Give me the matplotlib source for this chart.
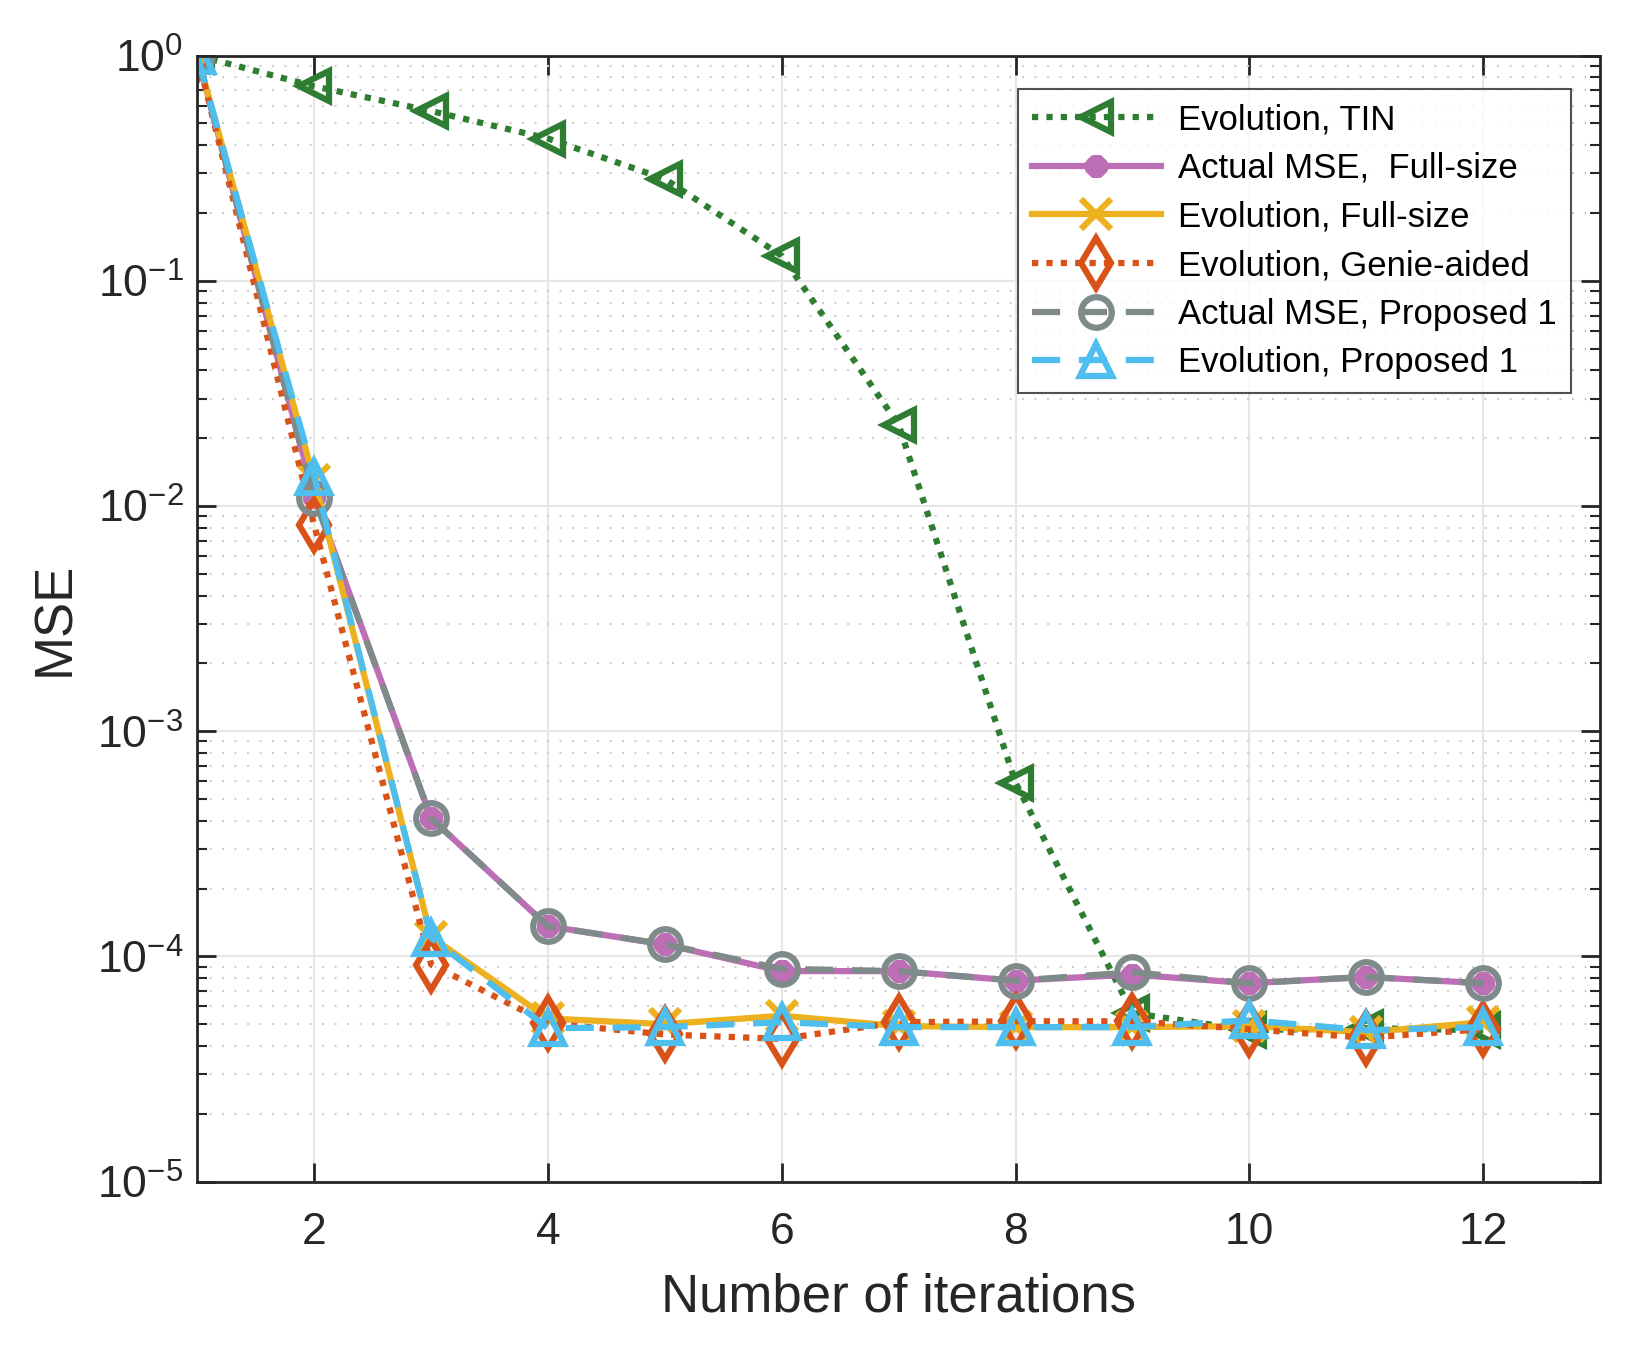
import numpy as np
import matplotlib
matplotlib.use('Agg')
import matplotlib.pyplot as plt
from matplotlib.ticker import LogLocator, NullFormatter

plt.rcParams['font.family'] = ['Liberation Sans', 'DejaVu Sans']
plt.rcParams['mathtext.fontset'] = 'custom'
plt.rcParams['mathtext.rm'] = 'Liberation Sans'
plt.rcParams['mathtext.it'] = 'Liberation Sans:italic'

# data
iters = [1, 2, 3, 4, 5, 6, 7, 8, 9, 10, 11, 12]
tin = [1.0, 0.73, 0.567, 0.428, 0.283, 0.129, 0.0229, 5.9e-4, 5.6e-5, 4.7e-5, 4.8e-5, 4.7e-5]
actual_full = [1.0, 1.1e-2, 4.1e-4, 1.36e-4, 1.13e-4, 8.6e-5, 8.6e-5, 7.8e-5, 8.3e-5, 7.6e-5, 8.1e-5, 7.6e-5]
evo_full = [1.0, 1.3e-2, 1.22e-4, 5.3e-5, 5.0e-5, 5.45e-5, 4.9e-5, 4.85e-5, 4.85e-5, 4.9e-5, 4.6e-5, 5.1e-5]
evo_genie = [1.0, 8.2e-3, 9.2e-5, 5.05e-5, 4.5e-5, 4.3e-5, 5.1e-5, 5.15e-5, 5.15e-5, 4.75e-5, 4.35e-5, 4.75e-5]
actual_prop = [1.0, 1.09e-2, 4.1e-4, 1.36e-4, 1.13e-4, 8.8e-5, 8.6e-5, 7.8e-5, 8.5e-5, 7.6e-5, 8.1e-5, 7.6e-5]
evo_prop = [1.0, 1.35e-2, 1.21e-4, 4.8e-5, 4.85e-5, 5.1e-5, 4.85e-5, 4.85e-5, 4.85e-5, 5.2e-5, 4.7e-5, 4.85e-5]

labels = ['Evolution, TIN',
          'Actual MSE,  Full-size',
          'Evolution, Full-size',
          'Evolution, Genie-aided',
          'Actual MSE, Proposed 1',
          'Evolution, Proposed 1']

fig = plt.figure(figsize=(16.31, 13.55), dpi=100)
ax = fig.add_axes([0.121, 0.128, 0.860, 0.831])

lw = 4.5
mew = 4.5
dot = (1, 1.3)
dash = (4.5, 3)
ax.plot(iters, tin, color='#2E7D32', lw=lw, dashes=dot, marker='<', ms=22, mfc='none', mew=mew, label=labels[0])
ax.plot(iters, actual_full, '-', color='#BC6FB4', lw=lw, marker=(8, 2, 0), ms=16, mew=6, label=labels[1])
ax.plot(iters, evo_full, '-', color='#EDB120', lw=lw, marker='x', ms=22, mew=mew, label=labels[2])
ax.plot(iters, evo_genie, color='#D95319', lw=lw, dashes=dot, marker='d', ms=25, mfc='none', mew=mew, label=labels[3])
ax.plot(iters, actual_prop, color='#7F8A8A', lw=lw, dashes=dash, marker='o', ms=22, mfc='none', mew=mew,
        label=labels[4])
ax.plot(iters, evo_prop, color='#4DBEEE', lw=lw, dashes=dash, marker='^', ms=23, mfc='none', mew=mew,
        label=labels[5])

ax.set_yscale('log')
ax.set_xlim(1, 13)
ax.set_ylim(1e-5, 1)
ax.set_xticks([2, 4, 6, 8, 10, 12])
ax.yaxis.set_major_locator(LogLocator(base=10, numticks=10))
ax.yaxis.set_minor_locator(LogLocator(base=10, subs=np.arange(2, 10), numticks=20))
ax.yaxis.set_minor_formatter(NullFormatter())

ax.grid(True, which='major', color='#E6E6E6', lw=1.5, ls='-')
ax.grid(True, which='minor', axis='y', color='#CFCFCF', lw=1.5, ls=(0, (1, 5)))
ax.set_axisbelow(True)

ax.tick_params(which='both', direction='in', top=True, right=True, colors='#262626')
ax.tick_params(which='major', length=14, width=2, labelsize=32)
ax.tick_params(axis='x', which='major', pad=22)
ax.tick_params(axis='y', which='major', pad=10)
ax.tick_params(which='minor', length=7, width=1.5)
for sp in ax.spines.values():
    sp.set_linewidth(2)
    sp.set_color('#262626')

ax.set_xlabel('Number of iterations', fontsize=38, color='#262626', labelpad=14)
ax.set_ylabel('MSE', fontsize=38, color='#262626', labelpad=12)

leg = ax.legend(loc='upper right', bbox_to_anchor=(0.979, 0.970), borderaxespad=0,
                fontsize=25, handlelength=3.7, frameon=True, fancybox=False,
                labelspacing=0.45, borderpad=0.4, handletextpad=0.5)
leg.get_frame().set_edgecolor('#262626')
leg.get_frame().set_linewidth(1.5)

fig.savefig('out.png', dpi=100)
